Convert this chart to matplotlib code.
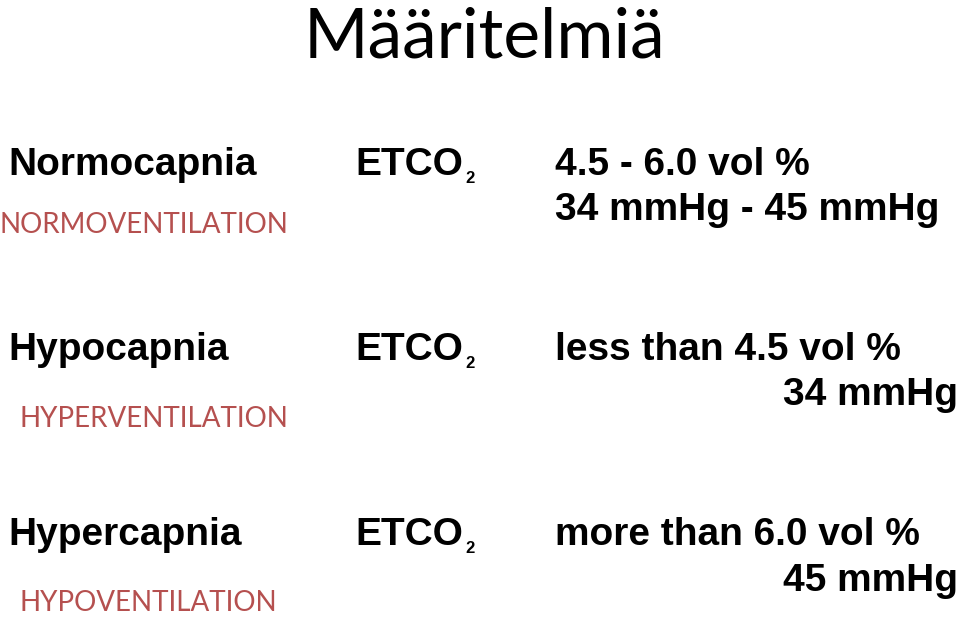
import matplotlib
matplotlib.use("Agg")
import matplotlib.pyplot as plt

title = "Määritelmiä"
conditions = ["Normocapnia", "Hypocapnia", "Hypercapnia"]
ventilation = ["NORMOVENTILATION", "HYPERVENTILATION", "HYPOVENTILATION"]
measure = "ETCO"
vol_text = ["4.5 - 6.0 vol %", "less than 4.5 vol %", "more than 6.0 vol %"]
mmhg_text = ["34 mmHg - 45 mmHg", "34 mmHg", "45 mmHg"]

W, H = 960, 617
fig = plt.figure(figsize=(9.6, 6.17), dpi=100)
fig.patch.set_facecolor("white")

def T(x, y, s, **kw):
    fig.text(x / W, 1 - y / H, s, va="baseline", **kw)

RED = "#b5504f"
bold = dict(family="Liberation Sans", weight="bold", size=28, color="black")
T(484, 58, title, ha="center", family="Lato", size=50, color="black")

row_y = [175, 360, 545]
vent_y = [233, 427, 611]
vent_x = [144, 154, 148]
mm_y = [220, 405, 591]
for i in range(3):
    y = row_y[i]
    T(8, y, conditions[i], **bold)
    T(vent_x[i], vent_y[i], ventilation[i], ha="center", family="Lato", size=20, color=RED)
    T(355, y, measure, **bold)
    T(465, y + 8, "2", family="Liberation Sans", weight="bold", size=12)
    T(555, y, vol_text[i], **bold)
    if i == 0:
        T(555, mm_y[i], mmhg_text[i], **bold)
    else:
        T(958, mm_y[i], mmhg_text[i], ha="right", **bold)

fig.savefig("out.png", dpi=100, facecolor="white")
